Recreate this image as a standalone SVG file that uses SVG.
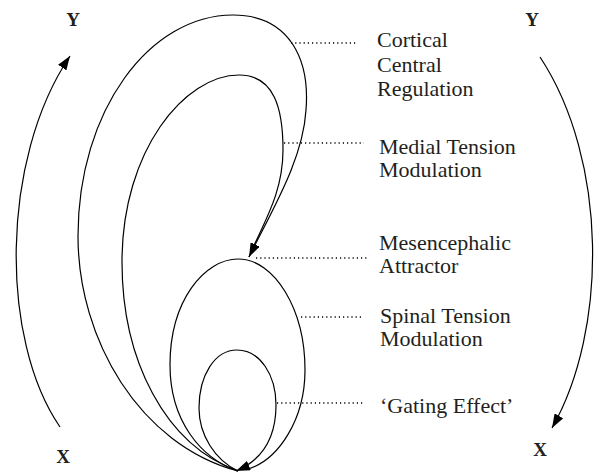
<svg xmlns="http://www.w3.org/2000/svg" width="595" height="476" viewBox="0 0 595 476">
<defs>
<style>
.c{fill:none;stroke:#000;stroke-width:1.2}
.d{fill:none;stroke:#000;stroke-width:1.5;stroke-dasharray:1.2 3}
.t{font-family:"Liberation Serif",serif;font-size:22px;fill:#231f20}
.b{font-family:"Liberation Serif",serif;font-size:19px;font-weight:bold;fill:#231f20;text-anchor:middle}
</style>
<marker id="ah" viewBox="0 0 14 10" refX="14" refY="5" markerWidth="14" markerHeight="10" markerUnits="userSpaceOnUse" orient="auto">
<path d="M0,0 L14,5 L0,10 Z" fill="#000"/>
</marker>
</defs>
<g id="connectors">
<path class="c" d="M60,427 C0,340 0,160 70,56" marker-end="url(#ah)"/>
<path class="c" d="M540,57 C608,160 608,330 552,428" marker-end="url(#ah)"/>
<path class="c" d="M238,471 C140,445 78,340 78,236 C78,110 150,15 233,15 C290,15 310,60 306,110 C303,160 272,210 249,257" marker-end="url(#ah)"/>
<path class="c" d="M238,471 C165,445 122,360 122,262 C122,150 185,75 239,75 C275,75 283,110 283,150 C283,195 262,225 249,257"/>
<path class="c" d="M238,471 C200,458 170,420 170,365 C170,300 205,259 238,259 C275,259 305,310 305,370 C305,420 278,460 248,469"/>
<path class="c" d="M238,471 C215,460 199,435 199,408 C199,375 215,350 237,350 C260,350 276,375 276,405 C276,438 262,460 236,471" marker-end="url(#ah)"/>
</g>
<g id="axes">
<text class="b" x="73" y="26">Y</text>
<text class="b" x="532" y="26">Y</text>
<text class="b" x="63" y="463">X</text>
<text class="b" x="540" y="456">X</text>
</g>
<g id="cortical">
<line class="d" x1="291" y1="43" x2="358" y2="43"/>
<text class="t" x="377" y="47">Cortical</text>
<text class="t" x="377" y="72">Central</text>
<text class="t" x="377" y="96">Regulation</text>
</g>
<g id="medial">
<line class="d" x1="284" y1="143" x2="364" y2="143"/>
<text class="t" x="379" y="154">Medial Tension</text>
<text class="t" x="379" y="177">Modulation</text>
</g>
<g id="mesencephalic">
<line class="d" x1="256" y1="258" x2="367" y2="258"/>
<text class="t" x="379" y="250">Mesencephalic</text>
<text class="t" x="379" y="273">Attractor</text>
</g>
<g id="spinal">
<line class="d" x1="301" y1="317" x2="363" y2="317"/>
<text class="t" x="380" y="323">Spinal Tension</text>
<text class="t" x="380" y="346">Modulation</text>
</g>
<g id="gating">
<line class="d" x1="277" y1="403" x2="363" y2="403"/>
<text class="t" x="380" y="413">‘Gating Effect’</text>
</g>
</svg>
